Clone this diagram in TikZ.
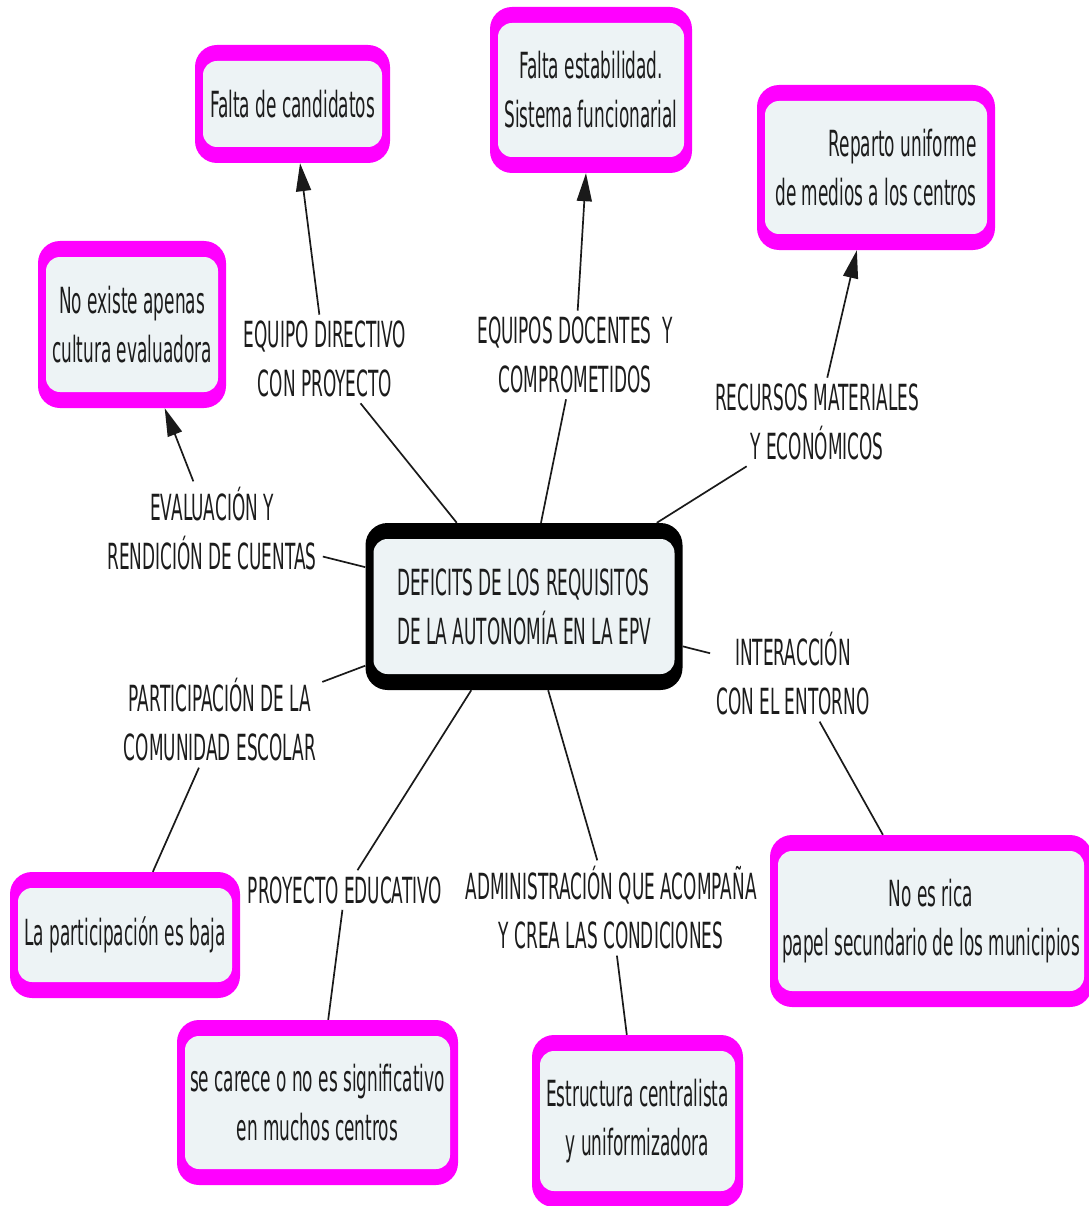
\documentclass[tikz,border=0pt]{standalone}
\usepackage{fontspec}
\setmainfont[FakeStretch=0.47]{DejaVu Sans}
\usepackage{tikz}
\usetikzlibrary{arrows.meta}
\definecolor{cmappink}{HTML}{FF00FF}
\definecolor{cmapfill}{HTML}{EDF3F5}
\definecolor{cmaptext}{HTML}{1C1C1C}
\definecolor{cmapline}{HTML}{1A1A1A}
\tikzset{
  boxframe/.style={
    fill=#1, rounded corners=22pt, inner sep=0pt, align=center,
    path picture={\fill[cmapfill, rounded corners=14pt]
      ([shift={(8pt,-16pt)}]path picture bounding box.north west) rectangle
      ([shift={(-8pt,16pt)}]path picture bounding box.south east);}
  },
  arrow/.style={-{Triangle[length=28pt,width=15pt]}, line width=1.7pt, draw=cmapline},
  link/.style={line width=1.7pt, draw=cmapline}
}

\begin{document}
\begin{tikzpicture}[x=1pt, y=-1pt,
  font=\fontsize{36}{49}\selectfont, text=cmaptext,
  hub/.style={boxframe=black, minimum width=317pt, minimum height=167pt},
  leaf/.style={boxframe=cmappink},
  linkword/.style={align=center, inner sep=6pt}
]
\useasboundingbox (0,0) rectangle (1088,1206);

%% central concept
\node[hub, align=left] (main) at (524,606.5) {DEFICITS DE LOS REQUISITOS\\DE LA AUTONOMÍA EN LA EPV};

%% linking words
\node[linkword] (labDir)  at (325,359) {EQUIPO DIRECTIVO\\CON PROYECTO};
\node[linkword] (labDoc)  at (575,355) {EQUIPOS DOCENTES\ \ Y\\COMPROMETIDOS};
\node[linkword] (labRec)  at (817,422) {RECURSOS MATERIALES\\Y ECONÓMICOS};
\node[linkword] (labEval) at (212,529) {EVALUACIÓN Y\\RENDICIÓN DE CUENTAS};
\node[linkword] (labPart) at (220,720) {PARTICIPACIÓN DE LA\\COMUNIDAD ESCOLAR};
\node[linkword] (labInt)  at (793,674) {INTERACCIÓN\\CON EL ENTORNO};
\node[linkword] (labProy) at (345,890) {PROYECTO EDUCATIVO};
\node[linkword] (labAdm)  at (611,908) {ADMINISTRACIÓN QUE ACOMPAÑA\\Y CREA LAS CONDICIONES};

%% leaf concepts
\node[leaf, minimum width=195pt, minimum height=118pt] (leafCand) at (292.5,104) {Falta de candidatos};
\node[leaf, minimum width=202pt, minimum height=166pt] (leafEstab) at (591,90) {Falta estabilidad.\\Sistema funcionarial};
\node[leaf, align=right, minimum width=238pt, minimum height=165pt] (leafRep) at (876,167.5) {Reparto uniforme\\de medios a los centros};
\node[leaf, minimum width=188pt, minimum height=167pt] (leafCult) at (132,324.5) {No existe apenas\\cultura evaluadora};
\node[leaf, minimum width=230pt, minimum height=126pt] (leafPart) at (125,935) {La participación es baja};
\node[leaf, minimum width=281pt, minimum height=165pt] (leafCar) at (317.5,1102.5) {se carece o no es significativo\\en muchos centros};
\node[leaf, minimum width=211pt, minimum height=172pt] (leafEstr) at (637.5,1121) {Estructura centralista\\y uniformizadora};
\node[leaf, minimum width=322pt, minimum height=172pt] (leafRica) at (931,921) {No es rica\\papel secundario de los municipios};

%% connectors: central concept -- linking words
\foreach \lab in {labDir, labDoc, labRec, labEval, labPart, labInt, labProy, labAdm}
  \draw[link] (main) -- (\lab);

% linking words -> leaves (with arrowhead)
\draw[arrow] (labDir) -- (leafCand);
\draw[arrow] (labDoc) -- (leafEstab);
\draw[arrow] (labRec) -- (leafRep);
\draw[arrow] (labEval) -- (leafCult);

% linking words -- leaves (plain)
\draw[link] (labPart) -- (leafPart);
\draw[link] (labInt) -- (leafRica);
\draw[link] (labProy) -- (leafCar);
\draw[link] (labAdm) -- (leafEstr);

\end{tikzpicture}
\end{document}
